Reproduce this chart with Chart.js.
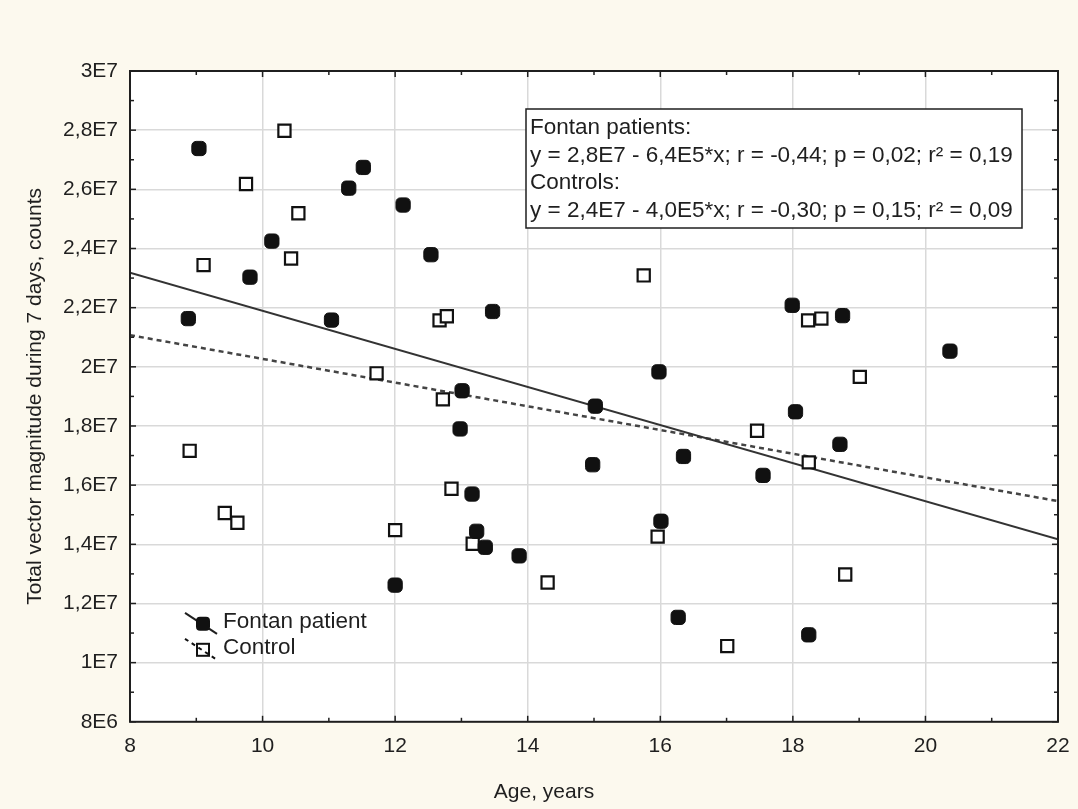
<!DOCTYPE html>
<html>
<head>
<meta charset="utf-8">
<script src="https://cdn.jsdelivr.net/npm/chart.js@4/dist/chart.umd.min.js"></script>
<style>
  html, body { margin: 0; padding: 0; background: #fcf9ee; }
  #wrap { width: 1078px; height: 809px; }
</style>
</head>
<body>
<div id="wrap"><canvas id="chart" width="1078" height="809"></canvas></div>
<script>
// age in years, total vector magnitude in millions of counts (axis shows E-notation)
var fontanAge = [9.04, 8.88, 9.81, 10.14, 11.30, 11.52, 11.04, 12.12, 12.54, 13.47,
                 13.01, 12.98, 13.16, 13.23, 13.36, 13.87, 12.00, 15.02, 14.98, 15.98,
                 16.01, 16.35, 16.27, 17.55, 17.99, 18.04, 18.75, 18.71, 18.24, 20.37];
var fontanTvm = [27.38, 21.63, 23.03, 24.25, 26.04, 26.74, 21.58, 25.47, 23.79, 21.87,
                 19.19, 17.90, 15.70, 14.44, 13.90, 13.61, 12.62, 18.67, 16.69, 19.83,
                 14.78, 16.97, 11.53, 16.33, 22.08, 18.48, 21.73, 17.38, 10.94, 20.53];

var controlAge = [8.90, 9.11, 9.43, 9.62, 9.75, 10.33, 10.43, 10.54, 11.72, 12.00,
                  12.67, 12.78, 12.72, 12.85, 13.17, 14.30, 15.75, 15.96, 17.01, 17.46,
                  18.23, 18.43, 18.24, 18.79, 19.01];
var controlTvm = [17.16, 23.44, 15.06, 14.73, 26.18, 27.98, 23.66, 25.19, 19.78, 14.48,
                  21.57, 21.71, 18.90, 15.88, 14.02, 12.71, 23.09, 14.26, 10.56, 17.84,
                  21.57, 21.63, 16.77, 12.98, 19.66];

// fitted lines, read at the plot edges
var fitAge = [8, 22];
var fontanFit = [23.18, 14.17];
var controlFit = [21.07, 15.46];

var statsLines = [
  "Fontan patients:",
  "y = 2,8E7 - 6,4E5*x; r = -0,44; p = 0,02; r\u00b2 = 0,19",
  "Controls:",
  "y = 2,4E7 - 4,0E5*x; r = -0,30; p = 0,15; r\u00b2 = 0,09"
];

var FONT = "'Liberation Sans', Arial, sans-serif";
var INK = "#1f1f1f";
var GRID = "#d9d9d9";

function pairs(xs, ys) {
  var out = [];
  for (var i = 0; i < xs.length; i++) out.push({ x: xs[i], y: ys[i] });
  return out;
}

function sciLabel(v) {
  var n = v * 1e6;
  var e = Math.floor(Math.log10(n) + 1e-9);
  var m = Math.round(n / Math.pow(10, e) * 10) / 10;
  return String(m).replace(".", ",") + "E" + e;
}

function line(ctx, x1, y1, x2, y2) {
  ctx.beginPath();
  ctx.moveTo(x1, y1);
  ctx.lineTo(x2, y2);
  ctx.stroke();
}

var backdrop = {
  id: "backdrop",
  beforeDraw: function (chart) {
    var ctx = chart.ctx, ca = chart.chartArea;
    ctx.save();
    ctx.fillStyle = "#fcf9ee";
    ctx.fillRect(0, 0, chart.width, chart.height);
    ctx.fillStyle = "#ffffff";
    ctx.fillRect(ca.left, ca.top, ca.right - ca.left, ca.bottom - ca.top);
    ctx.restore();
  }
};

var frame = {
  id: "frame",
  afterDatasetsDraw: function (chart) {
    var ctx = chart.ctx, ca = chart.chartArea;
    var xs = chart.scales.x, ys = chart.scales.y;
    var v, p, len;
    ctx.save();
    ctx.strokeStyle = INK;
    ctx.lineWidth = 2;
    ctx.strokeRect(ca.left, ca.top, ca.right - ca.left, ca.bottom - ca.top);

    // inward tick marks on all four sides, minor ones at odd values
    ctx.lineWidth = 1.5;
    for (v = xs.min; v <= xs.max; v++) {
      p = xs.getPixelForValue(v);
      len = v % 2 === 0 ? 6 : 4;
      line(ctx, p, ca.bottom, p, ca.bottom - len);
      line(ctx, p, ca.top, p, ca.top + len);
    }
    for (v = ys.min; v <= ys.max; v++) {
      p = ys.getPixelForValue(v);
      len = v % 2 === 0 ? 6 : 4;
      line(ctx, ca.left, p, ca.left + len, p);
      line(ctx, ca.right, p, ca.right - len, p);
    }

    // regression statistics box
    var bx = 526, by = 109, bw = 496, bh = 119;
    ctx.fillStyle = "#ffffff";
    ctx.fillRect(bx, by, bw, bh);
    ctx.lineWidth = 1.5;
    ctx.strokeStyle = INK;
    ctx.strokeRect(bx, by, bw, bh);
    ctx.fillStyle = INK;
    ctx.font = "22.5px " + FONT;
    ctx.textBaseline = "middle";
    ctx.textAlign = "left";
    for (var i = 0; i < statsLines.length; i++) {
      ctx.fillText(statsLines[i], bx + 4, by + 19 + i * 27.5);
    }

    // legend, bottom left inside plot
    var lx = ca.left + 73, ly1 = ca.bottom - 98, ly2 = ca.bottom - 72;
    ctx.lineWidth = 2;
    ctx.strokeStyle = INK;
    line(ctx, lx - 18, ly1 - 11, lx + 14, ly1 + 10);
    ctx.fillStyle = "#111";
    ctx.beginPath();
    ctx.roundRect(lx - 7, ly1 - 7, 14, 14, 4);
    ctx.fill();
    ctx.fillStyle = "#ffffff";
    ctx.fillRect(lx - 6, ly2 - 6, 12, 12);
    ctx.strokeStyle = "#111";
    ctx.strokeRect(lx - 6, ly2 - 6, 12, 12);
    ctx.setLineDash([4, 4]);
    line(ctx, lx - 18, ly2 - 11, lx + 14, ly2 + 10);
    ctx.setLineDash([]);
    ctx.fillStyle = INK;
    ctx.font = "22.5px " + FONT;
    ctx.fillText("Fontan patient", lx + 20, ly1 - 2);
    ctx.fillText("Control", lx + 20, ly2 - 2);
    ctx.restore();
  }
};

function gridColor(lo, hi) {
  return function (c) {
    var v = c.tick ? c.tick.value : null;
    return (v === lo || v === hi) ? "rgba(0,0,0,0)" : GRID;
  };
}

var ctx = document.getElementById("chart").getContext("2d");
new Chart(ctx, {
  type: "scatter",
  data: {
    datasets: [
      {
        label: "Fontan patient",
        data: pairs(fontanAge, fontanTvm),
        pointStyle: "rectRounded",
        pointRadius: 8.3,
        backgroundColor: "#111111",
        borderColor: "#111111",
        borderWidth: 1,
        order: 1
      },
      {
        label: "Control",
        data: pairs(controlAge, controlTvm),
        pointStyle: "rect",
        pointRadius: 8.6,
        backgroundColor: "#ffffff",
        borderColor: "#111111",
        borderWidth: 2.2,
        order: 1
      },
      {
        type: "line",
        label: "Fontan fit",
        data: pairs(fitAge, fontanFit),
        borderColor: "#333333",
        borderWidth: 2,
        pointRadius: 0,
        order: 2
      },
      {
        type: "line",
        label: "Control fit",
        data: pairs(fitAge, controlFit),
        borderColor: "#444444",
        borderWidth: 2.5,
        borderDash: [5, 4],
        pointRadius: 0,
        order: 2
      }
    ]
  },
  options: {
    responsive: false,
    animation: false,
    layout: { padding: { top: 71, right: 20, left: 30, bottom: 0 } },
    plugins: {
      legend: { display: false },
      tooltip: { enabled: false },
      title: {
        display: true,
        position: "bottom",
        text: "Age, years",
        color: INK,
        font: { family: FONT, size: 21, weight: "normal" },
        padding: { top: 0, bottom: 4 }
      }
    },
    scales: {
      x: {
        type: "linear",
        min: 8,
        max: 22,
        ticks: { stepSize: 2, color: INK, padding: 12, font: { family: FONT, size: 21 } },
        grid: { color: gridColor(8, 22), lineWidth: 1.5, drawTicks: false },
        border: { display: false },
        afterFit: function (s) { s.height = 58; s.paddingLeft = 0; s.paddingRight = 0; }
      },
      y: {
        type: "linear",
        min: 8,
        max: 30,
        ticks: {
          stepSize: 2,
          color: INK,
          padding: 12,
          font: { family: FONT, size: 21 },
          callback: function (v) { return sciLabel(v); }
        },
        grid: { color: gridColor(8, 30), lineWidth: 1.5, drawTicks: false },
        border: { display: false },
        title: {
          display: true,
          text: "Total vector magnitude during 7 days, counts",
          color: INK,
          font: { family: FONT, size: 21 },
          padding: { top: -7, bottom: 0 }
        },
        afterFit: function (s) { s.width = 100; }
      }
    }
  },
  plugins: [backdrop, frame]
});
</script>
</body>
</html>
